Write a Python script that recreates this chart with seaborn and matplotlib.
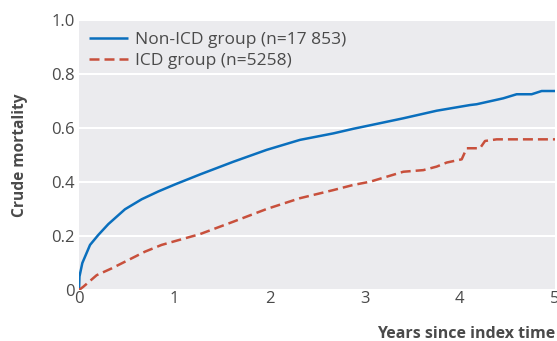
import matplotlib
matplotlib.use("Agg")
import matplotlib.pyplot as plt
import seaborn as sns
import pandas as pd

non_icd_years = [0, 0.005, 0.035, 0.116, 0.203, 0.308, 0.483, 0.658, 0.833, 1.008, 1.271, 1.621,
                 1.971, 2.321, 2.671, 2.88, 3.057, 3.407, 3.757, 4.107, 4.177, 4.457, 4.597, 4.755,
                 4.86, 5.0]
non_icd_mort = [0, 0.05, 0.1, 0.167, 0.204, 0.244, 0.299, 0.336, 0.365, 0.391, 0.428, 0.475,
                0.519, 0.556, 0.58, 0.597, 0.61, 0.636, 0.664, 0.685, 0.688, 0.71, 0.725, 0.725,
                0.737, 0.737]

icd_years = [0, 0.045, 0.186, 0.343, 0.518, 0.693, 0.868, 1.008, 1.271, 1.621, 1.971, 2.321,
             2.671, 2.88, 3.057, 3.407, 3.617, 3.757, 3.862, 4.02, 4.072, 4.212, 4.265, 4.387, 5.0]
icd_mort = [0, 0.012, 0.055, 0.08, 0.111, 0.142, 0.167, 0.181, 0.207, 0.253, 0.3, 0.34,
            0.37, 0.389, 0.401, 0.438, 0.444, 0.457, 0.472, 0.484, 0.525, 0.525, 0.552, 0.558, 0.558]

labels = ["Non-ICD group (n=17 853)", "ICD group (n=5258)"]
colors = ["#0a6fbd", "#c8503c"]

df = pd.concat([
    pd.DataFrame({"years": non_icd_years, "mort": non_icd_mort, "group": labels[0]}),
    pd.DataFrame({"years": icd_years, "mort": icd_mort, "group": labels[1]}),
])

sns.set_style("darkgrid", {"axes.facecolor": "#ebebee", "grid.color": "white"})
plt.rcParams["font.family"] = ["Open Sans", "DejaVu Sans"]

fig = plt.figure(figsize=(5.57, 3.41), dpi=100)
ax = fig.add_axes([79/557, 51/341, 476/557, 270/341])

sns.lineplot(data=df, x="years", y="mort", hue="group", style="group",
             palette=colors, dashes=[(1, 0), (4, 2)], linewidth=1.8, ax=ax,
             estimator=None, sort=False)

ax.set_xlim(0, 5)
ax.set_ylim(0, 1.0)
ax.set_xticks([0, 1, 2, 3, 4, 5])
ax.set_xticklabels(["0", "1", "2", "3", "4", "5"])
ax.set_yticks([0, 0.2, 0.4, 0.6, 0.8, 1.0])
ax.set_yticklabels(["0", "0.2", "0.4", "0.6", "0.8", "1.0"])
ax.grid(axis="x", visible=False)
ax.grid(axis="y", color="white", linewidth=1.5)
for s in ax.spines.values():
    s.set_visible(False)
ax.tick_params(axis="x", direction="in", length=4, color="white", width=1.5,
               labelsize=12, labelcolor="#4a4a4a", pad=1)
ax.tick_params(axis="y", length=0, labelsize=12, labelcolor="#4a4a4a", pad=3)

ax.set_xlabel("Years since index time", fontsize=11.5, fontweight="bold", color="#4a4a4a")
ax.xaxis.set_label_coords(1.0, -0.135)
ax.xaxis.label.set_horizontalalignment("right")
ax.set_ylabel("Crude mortality", fontsize=11.2, fontweight="bold", color="#4a4a4a")
ax.yaxis.set_label_coords(-0.108, 0.5)

leg = ax.legend(loc="upper left", frameon=False, fontsize=12.5, handlelength=2.3,
                handletextpad=0.4, labelspacing=0.25, borderaxespad=0.15,
                bbox_to_anchor=(0.0, 0.99))
for t in leg.get_texts():
    t.set_color("#4a4a4a")

fig.savefig("out.png", dpi=100)
